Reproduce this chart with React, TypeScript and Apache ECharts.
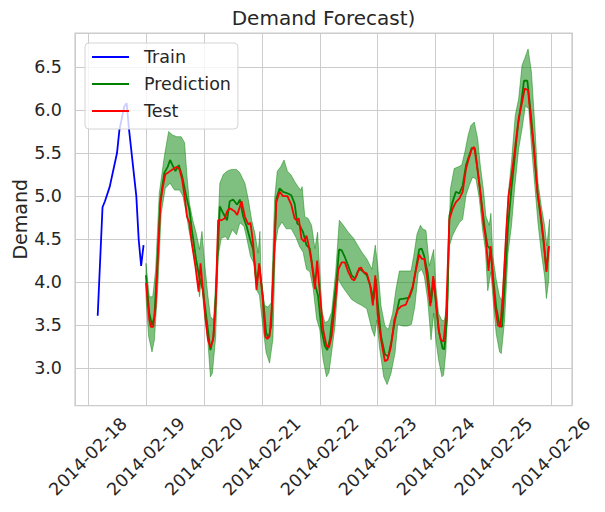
import React, { useEffect, useRef } from "react";
import * as echarts from "echarts";

// Hours are counted from 2014-02-18 00:00 for the training data,
// and from 2014-02-19 00:00 (TEST_OFFSET hours later) for the test period.
const TEST_OFFSET = 24;
const BASE_DATE_UTC = Date.UTC(2014, 1, 18);

const xTickDates = ["2014-02-18", "2014-02-19", "2014-02-20", "2014-02-21", "2014-02-22", "2014-02-23", "2014-02-24", "2014-02-25", "2014-02-26"];
const yTickLabels = ["3.0", "3.5", "4.0", "4.5", "5.0", "5.5", "6.0", "6.5"];

const trainPoints: [number, number][] = [
  [4, 3.61], [6, 4.87], [7, 4.94], [9, 5.11], [12, 5.5], [13, 5.77], [15, 6.04],
  [16, 6.08], [17, 5.77], [20, 5.0], [21, 4.49], [22, 4.19], [23, 4.43],
];

const testPoints: [number, number][] = [
  [0, 3.99], [1.4, 3.56], [2, 3.48], [3, 3.48], [4, 3.72], [5, 4.34], [6, 4.92], [7, 5.11], [8, 5.25], [9, 5.27],
  [10, 5.29], [11, 5.31], [12.8, 5.34], [13.9, 5.31], [15, 5.19], [16, 5.0], [17, 4.76], [18, 4.69], [19, 4.45],
  [20.5, 4.18], [21.8, 3.89], [22.6, 4.22], [23.6, 3.91], [24.6, 3.6], [25.7, 3.33], [26.7, 3.24], [27.8, 3.33],
  [28.9, 3.76], [29.9, 4.72], [31.2, 4.72], [32.6, 4.74], [33.6, 4.82], [34.7, 4.86], [35.8, 4.84], [36.8, 4.82],
  [37.8, 4.78], [39.6, 4.94], [41, 4.76], [42.4, 4.67], [43.3, 4.69], [44.4, 4.45], [45.8, 3.91], [46.9, 4.22],
  [48.4, 3.8], [49.4, 3.37], [50.2, 3.34], [51.2, 3.37], [52.2, 3.73], [54, 4.93], [55.4, 5.05], [56.8, 5.0],
  [58.6, 5.0], [60.2, 4.9], [61.6, 4.74], [62.3, 4.72], [63.3, 4.74], [64.4, 4.51], [65.5, 4.47], [66.5, 4.54],
  [67.4, 4.43], [68.6, 4.23], [70, 3.92], [70.9, 4.25], [72, 3.88], [73.4, 3.45], [74.8, 3.26], [75.8, 3.24],
  [76.9, 3.37], [78.3, 3.73], [79.7, 4.15], [81.1, 4.23], [82.4, 4.23], [83.8, 4.12], [85.2, 4.04], [86.3, 4.02],
  [87.3, 4.08], [88.3, 4.16], [89.1, 4.17], [90.1, 4.12], [91.5, 4.1], [92.9, 3.96], [94, 3.73], [95, 4.08],
  [96, 3.62], [97.4, 3.33], [99, 3.08], [100.1, 3.1], [101.5, 3.25], [102.9, 3.56], [104.3, 3.68], [105.7, 3.72],
  [107.7, 3.74], [109.1, 3.84], [110.5, 3.95], [111.9, 4.15], [113.2, 4.32], [114.3, 4.27], [115.3, 4.27],
  [116.4, 4.07], [117.8, 3.72], [119, 4.07], [120.1, 3.8], [121.2, 3.45], [122.2, 3.33], [123.3, 3.31],
  [124.3, 3.6], [125.7, 4.73], [127, 4.85], [128.4, 4.93], [129.8, 4.97], [131.2, 5.05], [132.6, 5.32],
  [133.9, 5.45], [135, 5.55], [136, 5.57], [137.1, 5.36], [138.5, 5.05], [139.9, 4.66], [140.8, 4.5],
  [141.9, 4.13], [142.8, 4.42], [143.7, 4.03], [144.7, 3.71], [145.8, 3.5], [146.8, 3.48], [147.9, 3.87],
  [149.3, 4.61], [150.2, 5.0], [151.6, 5.27], [153, 5.58], [154.4, 5.9], [155.8, 6.09], [156.9, 6.25],
  [158.3, 6.23], [159.4, 5.9], [160.8, 5.51], [162.2, 5.04], [163.6, 4.77], [164.9, 4.45], [165.9, 4.12],
  [166.9, 4.42],
];

const predictionPoints: [number, number][] = [
  [0, 4.08], [1.4, 3.64], [2.5, 3.5], [3.5, 3.6], [5, 4.38], [6, 4.96], [7.6, 5.27], [9, 5.34], [10, 5.42],
  [11, 5.36], [12.2, 5.29], [13.6, 5.36], [15, 5.23], [16.7, 5.0], [18, 4.84], [19, 4.61], [20.8, 4.26], [22, 4.07],
  [23.6, 3.91], [25, 3.6], [26.7, 3.21], [28, 3.37], [29, 3.87], [30.6, 4.88], [32, 4.8], [33.6, 4.72], [34.7, 4.94],
  [36.1, 4.96], [37.8, 4.9], [38.9, 4.96], [40.3, 4.76], [41.7, 4.65], [43, 4.51], [44.4, 4.38], [45.8, 3.99],
  [47, 4.18], [48.4, 3.84], [49.8, 3.41], [50.8, 3.35], [51.9, 3.49], [54, 4.97], [55.4, 5.09], [56.8, 5.05],
  [58.8, 5.03], [60.2, 5.01], [61.6, 4.91], [62.7, 4.68], [63.7, 4.66], [65.1, 4.58], [66.5, 4.43], [67.9, 4.39],
  [69.3, 4.12], [70.2, 3.96], [71.3, 3.84], [72.7, 3.45], [74.1, 3.26], [75.1, 3.21], [76.2, 3.34], [77.6, 3.69],
  [79, 4.04], [80, 4.38], [81.1, 4.37], [82.4, 4.29], [83.8, 4.19], [85.2, 4.08], [86.6, 4.04], [87.7, 4.12],
  [88.7, 4.15], [90.1, 4.12], [91.5, 4.08], [92.9, 3.96], [94.3, 3.8], [95.2, 4.04], [96, 3.76], [97.4, 3.37],
  [99, 3.16], [100.4, 3.14], [101.8, 3.33], [103.2, 3.56], [105, 3.8], [107, 3.81], [109.1, 3.82], [110.5, 3.93],
  [111.9, 4.17], [113.2, 4.38], [114.2, 4.39], [115.3, 4.3], [116.7, 4.11], [118.1, 3.76], [119.2, 4.03],
  [120.1, 3.76], [121.5, 3.41], [122.9, 3.23], [123.6, 3.22], [124.7, 3.56], [125.7, 4.77], [127, 4.93],
  [128.4, 5.05], [129.8, 5.03], [131.2, 5.12], [132.6, 5.36], [133.9, 5.47], [135, 5.56], [136.3, 5.55],
  [137.7, 5.24], [139, 4.93], [140.4, 4.62], [141.5, 4.42], [142.8, 4.38], [143.7, 4.1], [145.1, 3.71],
  [146.5, 3.5], [147.5, 3.48], [148.6, 3.95], [150, 4.65], [151.4, 5.08], [152.7, 5.43], [154.1, 5.82],
  [155.5, 6.09], [156.6, 6.34], [158, 6.34], [159.4, 5.97], [160.8, 5.55], [162.2, 5.04], [163.6, 4.73],
  [164.9, 4.42], [165.9, 4.14], [166.9, 4.42],
];

const upperBound: [number, number][] = [
  [0, 4.22], [1.4, 3.83], [2.8, 3.83], [4, 4.14], [5.5, 5.03], [7.6, 5.46], [9.4, 5.75], [11, 5.71], [12.8, 5.69],
  [14.6, 5.69], [16, 5.62], [17, 5.23], [18, 4.92], [19.4, 4.72], [20.8, 4.57], [22.2, 4.38], [23.2, 4.59],
  [24.3, 4.22], [25.7, 3.83], [26.7, 3.6], [28, 3.56], [29, 4.07], [30.6, 5.15], [32, 5.25], [33.6, 5.29],
  [35.4, 5.31], [37.5, 5.31], [38.9, 5.27], [41, 5.15], [42.4, 4.96], [43.8, 4.72], [45.1, 4.57], [46.5, 4.34],
  [47.2, 4.59], [47.7, 4.04], [49.1, 3.73], [50.5, 3.71], [51.9, 3.76], [53.3, 4.97], [54.4, 5.29], [55.8, 5.34],
  [57.2, 5.42], [58.6, 5.29], [60, 5.25], [61.6, 5.17], [63, 5.11], [64.1, 5.07], [64.7, 5.11], [65.8, 4.76],
  [67.2, 4.74], [68.6, 4.66], [70, 4.39], [71.1, 4.58], [72, 4.12], [73, 3.65], [74.1, 3.53], [75.5, 3.55],
  [76.9, 3.65], [78.6, 4.12], [80.1, 4.72], [81.8, 4.66], [83.8, 4.58], [86, 4.51], [87.7, 4.43], [89.4, 4.35],
  [91.5, 4.27], [93.6, 4.15], [95, 4.43], [96, 4.19], [97.4, 3.72], [99, 3.49], [100.4, 3.45], [102.2, 3.64],
  [103.6, 3.92], [105, 4.13], [107, 4.13], [109.8, 4.13], [110.9, 4.3], [112.3, 4.56], [113.7, 4.66],
  [114.6, 4.62], [116, 4.6], [117.4, 4.19], [119.2, 4.38], [120.1, 3.95], [121.2, 3.64], [122.5, 3.56],
  [123.6, 3.55], [125, 3.8], [126.1, 5.08], [127.7, 5.32], [129.4, 5.34], [130.8, 5.36], [132.1, 5.51],
  [133.5, 5.71], [134.6, 5.82], [136, 5.86], [137.4, 5.67], [138.5, 5.36], [139.9, 5.05], [140.8, 4.77],
  [142.2, 4.66], [142.9, 4.8], [143.7, 4.3], [145.1, 4.03], [146.5, 3.83], [147.5, 3.79], [148.6, 4.3], [150, 5.0],
  [151.4, 5.39], [153, 5.94], [154.4, 6.13], [155.8, 6.52], [156.9, 6.6], [158.3, 6.71], [159.7, 6.44],
  [161.1, 5.82], [162.4, 5.16], [163.8, 4.88], [165.2, 4.65], [166.1, 4.42], [167.2, 4.73],
];

const lowerBound: [number, number][] = [
  [0, 3.83], [1.1, 3.37], [2.5, 3.19], [3.5, 3.33], [5, 3.99], [6.3, 4.8], [8, 5.09], [10, 5.15], [11.8, 5.07],
  [13.9, 5.07], [15.3, 5.0], [16.7, 4.8], [18, 4.57], [19.7, 4.34], [21.1, 4.07], [22.2, 3.83], [22.9, 4.03],
  [24.3, 3.6], [25.7, 3.29], [26.7, 2.9], [27.5, 2.94], [28.9, 3.37], [29.9, 4.3], [31.2, 4.51], [33, 4.53],
  [34, 4.49], [35.8, 4.61], [37.5, 4.55], [38.9, 4.69], [40.6, 4.65], [41.9, 4.49], [43.3, 4.3], [44.7, 4.22],
  [45.8, 3.91], [47, 3.85], [48.4, 3.49], [49.8, 3.18], [51.2, 3.06], [52.6, 3.34], [53.6, 4.43], [54.7, 4.62],
  [56.3, 4.7], [58.1, 4.62], [60.2, 4.62], [62.3, 4.51], [63.7, 4.41], [65.1, 4.35], [66.5, 4.15], [67.9, 4.12],
  [69.3, 3.92], [70.7, 3.57], [72, 3.45], [73.4, 3.1], [74.8, 2.9], [75.8, 2.95], [76.9, 3.18], [78.3, 3.49],
  [79.7, 4.04], [81.1, 3.96], [83.1, 3.88], [85.2, 3.8], [87.3, 3.76], [89.4, 3.73], [91.5, 3.69], [93.6, 3.45],
  [94.7, 3.37], [95.7, 3.56], [96.7, 3.25], [98.5, 2.9], [99.9, 2.81], [101.5, 2.94], [103.2, 3.18], [104.3, 3.51],
  [106.3, 3.49], [108.4, 3.49], [110, 3.51], [111.4, 3.72], [112.8, 4.11], [114.2, 4.15], [115.3, 4.07],
  [116.7, 3.8], [118.1, 3.33], [119.2, 3.64], [120.1, 3.33], [121.2, 3.1], [122.6, 2.9], [123.3, 2.92],
  [124.3, 3.21], [125.7, 4.42], [127, 4.54], [128.4, 4.62], [129.8, 4.69], [131.2, 4.73], [132.6, 5.01],
  [133.9, 5.12], [135.3, 5.22], [136.7, 5.2], [138.1, 4.97], [139.4, 4.62], [140.6, 4.38], [141.6, 3.9],
  [142.9, 4.12], [143.8, 3.8], [145.1, 3.4], [146.5, 3.19], [147.2, 3.17], [148.6, 3.56], [150, 4.34],
  [151.4, 4.65], [152.7, 5.08], [154.4, 5.55], [155.8, 5.78], [157.2, 6.05], [158.6, 6.01], [159.7, 5.58],
  [161.1, 5.12], [162.4, 4.69], [163.8, 4.34], [165.2, 4.06], [165.9, 3.81], [166.9, 4.03],
];

const FONT = "DejaVu Sans";
const TEXT_COLOR = "#262626";
const GRID_COLOR = "#cccccc";

const shiftTest = (pts: [number, number][]) => pts.map(([h, v]) => [h + TEST_OFFSET, v]);

const formatDate = (v: number) => {
  if (Math.abs(v / 24 - Math.round(v / 24)) > 1e-6) return "";
  const idx = Math.round(v / 24);
  if (idx >= 0 && idx < xTickDates.length) return xTickDates[idx];
  return new Date(BASE_DATE_UTC + v * 3600e3).toISOString().slice(0, 10);
};

const formatY = (v: number) => {
  if (Math.abs(v * 2 - Math.round(v * 2)) > 1e-6) return "";
  const s = v.toFixed(1);
  return yTickLabels.includes(s) ? s : "";
};

export default function App() {
  const ref = useRef<HTMLDivElement>(null);

  useEffect(() => {
    document.body.style.margin = "0";
    const chart = echarts.init(ref.current!, undefined, { renderer: "svg" });
    const upper = shiftTest(upperBound);
    const lower = shiftTest(lowerBound);

    chart.setOption({
      animation: false,
      backgroundColor: "#ffffff",
      textStyle: { fontFamily: FONT },
      graphic: [
        {
          type: "text",
          x: 323.5,
          y: 18.4,
          style: {
            text: "Demand Forecast)",
            align: "center",
            verticalAlign: "middle",
            fontFamily: FONT,
            fontSize: 20,
            fill: TEXT_COLOR,
          },
        },
      ],
      grid: {
        left: 75,
        right: 33,
        top: 33,
        bottom: 106.5,
        containLabel: false,
        outerBoundsMode: "none",
        show: true,
        borderColor: GRID_COLOR,
        borderWidth: 1.25,
        backgroundColor: "transparent",
      },
      legend: {
        data: ["Train", "Prediction", "Test"],
        orient: "vertical",
        left: 85,
        top: 43,
        padding: [4, 7, 8, 7],
        icon: "rect",
        itemWidth: 37,
        itemHeight: 2,
        itemGap: 7,
        backgroundColor: "rgba(255,255,255,0.8)",
        borderColor: "#d4d4d4",
        borderWidth: 1,
        borderRadius: 4,
        textStyle: {
          fontFamily: FONT,
          fontSize: 17.5,
          color: TEXT_COLOR,
          lineHeight: 20,
          padding: [0, 0, 0, 10],
        },
      },
      xAxis: {
        type: "value",
        min: -5.4,
        max: 200.5,
        splitNumber: 8,
        minInterval: 24,
        maxInterval: 24,
        axisLine: { show: false },
        axisTick: { show: false },
        splitLine: { show: true, lineStyle: { color: GRID_COLOR, width: 1 } },
        axisLabel: {
          interval: 0,
          rotate: 45,
          align: "center",
          verticalAlign: "middle",
          margin: 51,
          fontFamily: FONT,
          fontSize: 17.5,
          color: TEXT_COLOR,
          formatter: formatDate,
        },
      },
      yAxis: {
        type: "value",
        min: 2.567,
        max: 6.895,
        splitNumber: 8,
        minInterval: 0.5,
        maxInterval: 0.5,
        name: "Demand",
        nameLocation: "middle",
        nameGap: 46,
        nameMoveOverlap: false,
        nameTextStyle: { fontFamily: FONT, fontSize: 19, color: TEXT_COLOR },
        axisLine: { show: false },
        axisTick: { show: false },
        splitLine: { show: true, lineStyle: { color: GRID_COLOR, width: 1 } },
        axisLabel: {
          margin: 13,
          fontFamily: FONT,
          fontSize: 17.5,
          color: TEXT_COLOR,
          formatter: formatY,
        },
      },
      series: [
        {
          type: "custom",
          name: "Confidence band",
          silent: true,
          clip: true,
          z: 1,
          data: [[upper[0][0], upper[0][1]]],
          encode: { x: 0, y: 1 },
          renderItem: (params: any, api: any) => {
            if (params.dataIndex !== 0) return null;
            const pts = [
              ...upper.map((p) => api.coord(p)),
              ...lower.slice().reverse().map((p) => api.coord(p)),
            ];
            return {
              type: "polygon",
              shape: { points: pts },
              style: { fill: "rgba(0,128,0,0.5)", stroke: "rgba(0,128,0,0.45)", lineWidth: 1 },
            };
          },
        },
        {
          type: "line",
          name: "Train",
          data: trainPoints,
          symbol: "none",
          color: "#0000ff",
          lineStyle: { color: "#0000ff", width: 1.8 },
          z: 2,
        },
        {
          type: "line",
          name: "Prediction",
          data: shiftTest(predictionPoints),
          symbol: "none",
          color: "#008000",
          lineStyle: { color: "#008000", width: 1.8 },
          z: 3,
        },
        {
          type: "line",
          name: "Test",
          data: shiftTest(testPoints),
          symbol: "none",
          color: "#ff0000",
          lineStyle: { color: "#ff0000", width: 1.8 },
          z: 4,
        },
      ],
    });

    return () => chart.dispose();
  }, []);

  return (
    <div
      ref={ref}
      style={{ position: "fixed", left: 0, top: 0, width: 605, height: 512 }}
    />
  );
}
